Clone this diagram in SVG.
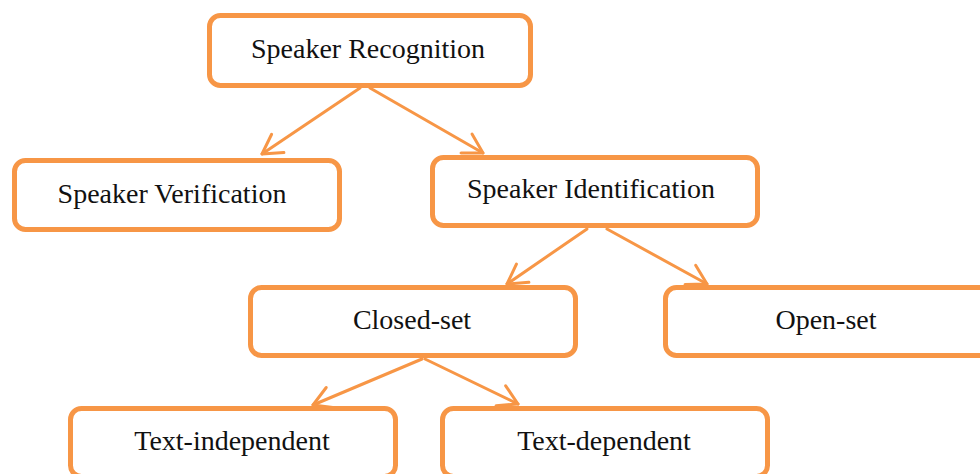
<svg xmlns="http://www.w3.org/2000/svg" width="980" height="474" viewBox="0 0 980 474">
  <defs>
    <style>
      .box { fill: #ffffff; stroke: #F79646; stroke-width: 5; }
      .label { font-family: "Liberation Serif", "Times New Roman", serif; font-size: 28px; fill: #111; text-anchor: middle; }
      .edge { fill: none; stroke: #F79646; stroke-width: 3; stroke-linecap: round; }
    </style>
    <!-- open V arrowhead -->
    <marker id="arrow" markerUnits="userSpaceOnUse" viewBox="-22 -14 25 28" refX="0" refY="0" markerWidth="25" markerHeight="28" orient="auto">
      <path d="M-19,-11 L0,0 L-19,11" fill="none" stroke="#F79646" stroke-width="3" stroke-linecap="round" stroke-linejoin="round"/>
    </marker>
  </defs>

  <rect width="980" height="474" fill="#ffffff"/>

  <g id="connectors">
    <line class="edge" x1="360" y1="88" x2="262" y2="154" marker-end="url(#arrow)"/>
    <line class="edge" x1="370" y1="88" x2="483" y2="153" marker-end="url(#arrow)"/>
    <line class="edge" x1="587" y1="229" x2="507" y2="284" marker-end="url(#arrow)"/>
    <line class="edge" x1="607" y1="229" x2="707" y2="284" marker-end="url(#arrow)"/>
    <line class="edge" x1="422" y1="359" x2="313" y2="405" marker-end="url(#arrow)"/>
    <line class="edge" x1="425" y1="359" x2="518" y2="404" marker-end="url(#arrow)"/>
  </g>

  <g id="speaker-recognition">
    <rect class="box" x="209.5" y="15.5" width="321" height="70" rx="11"/>
    <text class="label" x="368" y="58">Speaker Recognition</text>
  </g>

  <g id="speaker-verification">
    <rect class="box" x="14.5" y="160.5" width="325" height="69" rx="11"/>
    <text class="label" x="172" y="203">Speaker Verification</text>
  </g>

  <g id="speaker-identification">
    <rect class="box" x="432.5" y="157.5" width="325" height="68" rx="11"/>
    <text class="label" x="591" y="198">Speaker Identification</text>
  </g>

  <g id="closed-set">
    <rect class="box" x="250.5" y="287.5" width="325" height="68" rx="11"/>
    <text class="label" x="412" y="329">Closed-set</text>
  </g>

  <g id="open-set">
    <rect class="box" x="665.5" y="287.5" width="325" height="68" rx="11"/>
    <text class="label" x="826" y="329">Open-set</text>
  </g>

  <g id="text-independent">
    <rect class="box" x="70.5" y="408.5" width="325" height="68" rx="11"/>
    <text class="label" x="232" y="450">Text-independent</text>
  </g>

  <g id="text-dependent">
    <rect class="box" x="442.5" y="408.5" width="325" height="68" rx="11"/>
    <text class="label" x="604" y="450">Text-dependent</text>
  </g>
</svg>
